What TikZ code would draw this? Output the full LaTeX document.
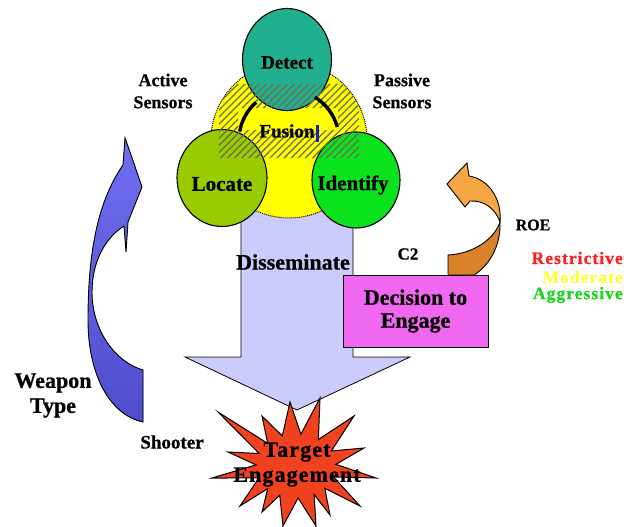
\documentclass[tikz,border=0pt]{standalone}
\usepackage{fontspec}
\setmainfont{Liberation Serif}[BoldFeatures={FakeBold=0.8}]
\usetikzlibrary{shapes.geometric,patterns.meta}

\definecolor{detectc}{RGB}{32,176,144}
\definecolor{locatec}{RGB}{153,204,0}
\definecolor{identc}{RGB}{10,226,30}
\definecolor{fusionc}{RGB}{255,255,0}
\definecolor{dissc}{RGB}{204,204,252}
\definecolor{decc}{RGB}{240,104,240}
\definecolor{starc}{RGB}{240,66,30}
\definecolor{weaptop}{RGB}{110,110,240}
\definecolor{weapbot}{RGB}{78,78,205}
\definecolor{roelight}{RGB}{246,166,66}
\definecolor{roedark}{RGB}{216,130,42}
\definecolor{hatchc}{RGB}{110,110,80}
\definecolor{restc}{RGB}{255,30,30}
\definecolor{modc}{RGB}{255,255,60}
\definecolor{aggc}{RGB}{30,210,30}
\definecolor{cursorc}{RGB}{30,30,200}

\begin{document}
\begin{tikzpicture}[x=1pt,y=-1pt,
  lbl/.style 2 args={inner sep=0,align=center,font=\bfseries\fontsize{#1}{#2}\selectfont},
  bubble/.style={ellipse,draw=black,line width=1.1pt,inner sep=0},
  outline/.style={draw=black,line width=0.9pt},
  roeitem/.style={inner sep=0,anchor=east,font=\bfseries\fontsize{17.5}{17.5}\selectfont\addfontfeature{LetterSpace=6}},
]
\useasboundingbox (0,0) rectangle (624,527);

% Disseminate: broad downward arrow behind the fusion group
\fill[dissc] (241,205) -- (241,357) -- (185,357) -- (297,410) -- (410,357)
  -- (353,357) -- (353,205) -- cycle;
\draw[line width=0.8pt] (241,205) -- (241,357) -- (185,357) -- (297,410)
  -- (410,357) -- (353,357) -- (353,205);

% Fusion zone
\node[circle,fill=fusionc,draw=black,densely dotted,line width=1pt,
  minimum size=156,inner sep=0] (fusionzone) at (289,140) {};

% Sensor functions
\node[bubble,fill=detectc,minimum width=89,minimum height=102] (detect) at (287,59.5) {};
\node[bubble,fill=locatec,minimum width=90,minimum height=97] (locate) at (222,178) {};
\node[bubble,fill=identc,minimum width=88,minimum height=96] (identify) at (356,180) {};

% Hatched band of the fusion zone
\begin{scope}
  \clip (289,140) circle[radius=78];
  \fill[pattern={Lines[angle=45,distance=5pt,line width=1.3pt]},pattern color=hatchc,
    even odd rule] (219,84) rectangle (359,158) (238,108) rectangle (338,130);
\end{scope}

% Flow strokes from Detect into the fusion zone
\draw[line width=3.4pt] ([shift={(289,140)}]190:50) arc[start angle=190,end angle=229,radius=50];
\draw[line width=3.4pt] ([shift={(289,140)}]301:50) arc[start angle=301,end angle=345,radius=50];

% Labels of the fusion group
\node[lbl={19}{22}] (detectlbl) at (detect.center) [yshift=-3] {Detect};
\node[lbl={21}{22}] (locatelbl) at (222,184) {Locate};
\node[lbl={21}{22}] (identlbl) at (353,185) {Identify};
\node[lbl={19}{22}] (fusionlbl) at (287,131) {Fusion};
\fill[cursorc] (316,125) rectangle (319,142);
\node[lbl={18}{22}] (active) at (163,91) {Active\\Sensors};
\node[lbl={18}{22}] (passive) at (402,91) {Passive\\Sensors};
\node[lbl={22}{24}] (dissem) at (293,262) {Disseminate};

% ROE: curved arrow rising from the decision box
\filldraw[fill=roedark,outline] (448,255) .. controls (472,254) and (494,240) .. (500,222)
  .. controls (501,245) and (490,265) .. (474,275) -- (448,275) -- cycle;
\filldraw[fill=roelight,outline] (500,222) .. controls (502,198) and (488,179) .. (469,176)
  -- (467,163) -- (447,184) -- (465,207) -- (470,201)
  .. controls (485,200) and (496,210) .. (500,222) -- cycle;

% Decision to engage
\node[rectangle,draw=black,line width=1pt,fill=decc,minimum width=145,minimum height=72,
  inner sep=0,align=center,font=\bfseries\fontsize{22}{23}\selectfont]
  (decision) at (415.5,311) {Decision to\\Engage};
\node[lbl={17}{20}] (ctwo) at (408,254) {C2};
\node[lbl={16}{20}] (roe) at (533,225) {ROE};
\node[roeitem,text=restc] (restrictive) at (623,258) {Restrictive};
\node[roeitem,text=modc] (moderate) at (623,277) {Moderate};
\node[roeitem,text=aggc] (aggressive) at (623,295) {Aggressive};

% Weapon type: curved arrow on the left
\filldraw[top color=weaptop,bottom color=weapbot,outline]
  (125,138) -- (130,152) -- (142,187) -- (128,222) -- (126,252) -- (124,226)
  .. controls (105,238) and (92,262) .. (92,292)
  .. controls (92,330) and (115,362) .. (143,370)
  -- (143,422)
  .. controls (110,415) and (88,375) .. (88,320)
  .. controls (88,262) and (95,205) .. (123,165) -- cycle;
\node[lbl={22}{25}] (weapon) at (53,395.5) {Weapon\\Type};
\node[lbl={19}{22}] (shooter) at (172,442) {Shooter};

% Target engagement burst
\filldraw[fill=starc,draw=black,line width=1pt]
  (320,398) -- ([shift={(296,466)}]-56:40 and 32)
  -- (354,416) -- ([shift={(296,466)}]-28:40 and 32)
  -- (364,448) -- ([shift={(296,466)}]-3:40 and 32)
  -- (376,478) -- ([shift={(296,466)}]20:40 and 32)
  -- (360,506) -- ([shift={(296,466)}]44:40 and 32)
  -- (330,515) -- ([shift={(296,466)}]63:40 and 32)
  -- (316,526) -- ([shift={(296,466)}]87:40 and 32)
  -- (283,526) -- ([shift={(296,466)}]114:40 and 32)
  -- (262,512) -- ([shift={(296,466)}]135:40 and 32)
  -- (240,506) -- ([shift={(296,466)}]158:40 and 32)
  -- (212,478) -- ([shift={(296,466)}]182:40 and 32)
  -- (228,452) -- ([shift={(296,466)}]203:40 and 32)
  -- (218,412) -- ([shift={(296,466)}]225:40 and 32)
  -- (262,416) -- ([shift={(296,466)}]250:40 and 32)
  -- (290,402) -- ([shift={(296,466)}]277:40 and 32) -- cycle;
\node[inner sep=0,align=center,font=\bfseries\fontsize{22}{25}\selectfont\addfontfeature{LetterSpace=5}]
  (target) at (297,464.5) {Target\\Engagement};
\end{tikzpicture}
\end{document}
